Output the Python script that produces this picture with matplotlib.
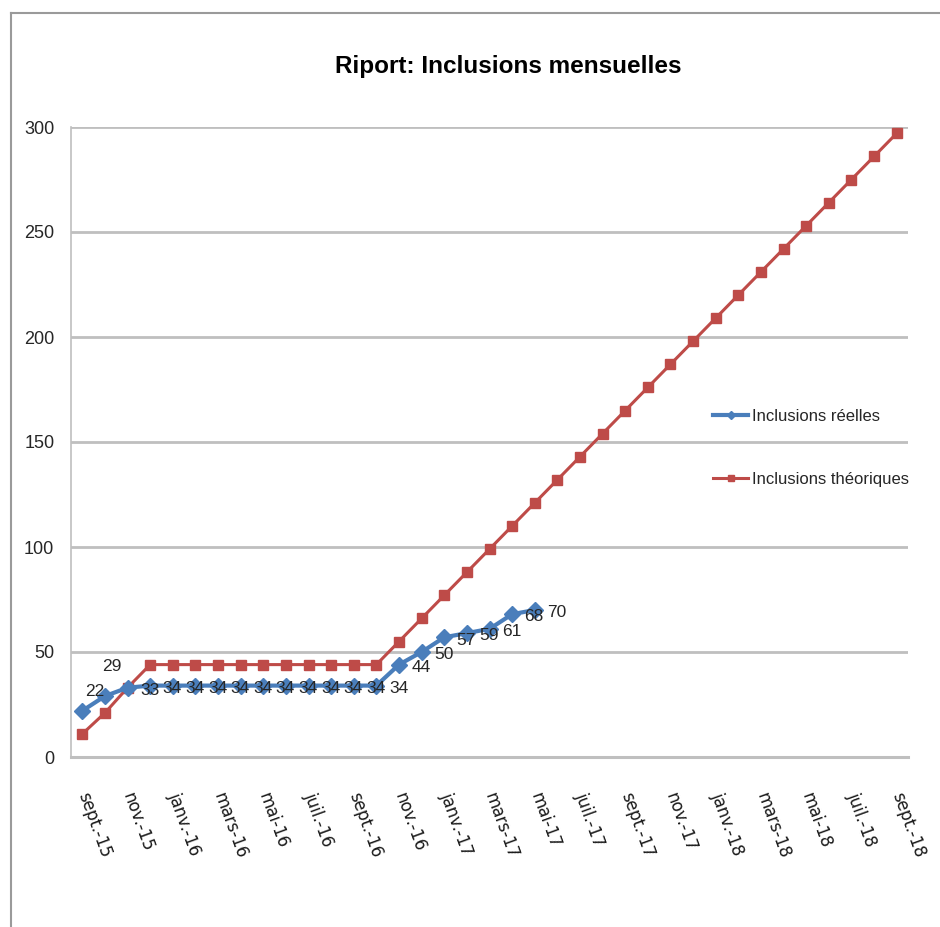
import matplotlib.pyplot as plt
from matplotlib.lines import Line2D

# monthly categories sept-15 .. sept-18
months = ['sept.-15', 'oct.-15', 'nov.-15', 'déc.-15', 'janv.-16', 'févr.-16',
          'mars-16', 'avr.-16', 'mai-16', 'juin-16', 'juil.-16', 'août-16',
          'sept.-16', 'oct.-16', 'nov.-16', 'déc.-16', 'janv.-17', 'févr.-17',
          'mars-17', 'avr.-17', 'mai-17', 'juin-17', 'juil.-17', 'août-17',
          'sept.-17', 'oct.-17', 'nov.-17', 'déc.-17', 'janv.-18', 'févr.-18',
          'mars-18', 'avr.-18', 'mai-18', 'juin-18', 'juil.-18', 'août-18',
          'sept.-18']

reelles = [22, 29, 33, 34, 34, 34, 34, 34, 34, 34, 34, 34, 34, 34,
           44, 50, 57, 59, 61, 68, 70]

theoriques = [11, 21, 33, 44, 44, 44, 44, 44, 44, 44, 44, 44, 44, 44,
              55, 66, 77, 88, 99, 110, 121, 132, 143, 154, 165, 176, 187,
              198, 209, 220, 231, 242, 253, 264, 275, 286, 297]

y_ticks = [0, 50, 100, 150, 200, 250, 300]

narrow = ['Liberation Sans', 'DejaVu Sans']
blue = '#4A7EBB'
red = '#BE4B48'
grid_col = '#BFBFBF'

fig = plt.figure(figsize=(9.4, 9.27), dpi=100)
ax = fig.add_axes([71 / 940, 170 / 927, (908 - 71) / 940, 630 / 927])

x_all = list(range(len(months)))
x_re = x_all[:len(reelles)]

ax.plot(x_all, theoriques, color=red, lw=2.2, marker='s', ms=7,
        mfc=red, mec=red, label='Inclusions théoriques', zorder=3)
ax.plot(x_re, reelles, color=blue, lw=3, marker='D', ms=8,
        mfc=blue, mec=blue, label='Inclusions réelles', zorder=4)

for i, v in enumerate(reelles):
    if i == 0:
        off = (2, 14)
    elif i == 1:
        off = (-2, 21)
    else:
        off = (9, -2)
    ax.annotate(str(v), (x_re[i], v), xytext=off, textcoords='offset points',
                ha='left', va='center', fontsize=12.5, family=narrow,
                color='#262626', zorder=5)

ax.set_xlim(-0.5, len(months) - 0.5)
ax.set_ylim(0, 300)
ax.set_yticks(y_ticks)
ax.set_yticklabels([str(t) for t in y_ticks], family=narrow, fontsize=13,
                   color='#262626')
ax.yaxis.grid(True, color=grid_col, lw=2)
ax.set_axisbelow(True)

ax.set_xticks(x_all[::2])
ax.set_xticklabels(months[::2], rotation=-70, rotation_mode='anchor',
                   ha='left', va='center', fontsize=12, color='#1a1a1a')
ax.tick_params(axis='x', length=0, pad=26)
ax.tick_params(axis='y', length=0, pad=12)

for s in ['top', 'right']:
    ax.spines[s].set_visible(False)
ax.spines['left'].set_color(grid_col)
ax.spines['left'].set_linewidth(1.2)
ax.spines['bottom'].set_color(grid_col)
ax.spines['bottom'].set_linewidth(2.2)

handles, labels = ax.get_legend_handles_labels()
leg = fig.legend(handles[::-1], labels[::-1], loc='center left',
                 bbox_to_anchor=(713 / 940, 0.517), frameon=False,
                 borderpad=0, borderaxespad=0, handlelength=2.1,
                 handletextpad=0.25, labelspacing=2.9, markerscale=0.55,
                 prop={'family': narrow, 'size': 12})
for t in leg.get_texts():
    t.set_color('#262626')

fig.text(508 / 940, 1 - 66 / 927, 'Riport: Inclusions mensuelles',
         ha='center', va='center', fontsize=17.5, fontweight='bold',
         family=narrow, color='black')

# outer chart frame (top and left edges visible)
fig.add_artist(Line2D([11 / 940, 1], [1 - 13 / 927, 1 - 13 / 927],
                      transform=fig.transFigure, color='#9a9a9a', lw=1.5))
fig.add_artist(Line2D([11 / 940, 11 / 940], [0, 1 - 13 / 927],
                      transform=fig.transFigure, color='#9a9a9a', lw=1.5))

fig.savefig('out.png', dpi=100)
